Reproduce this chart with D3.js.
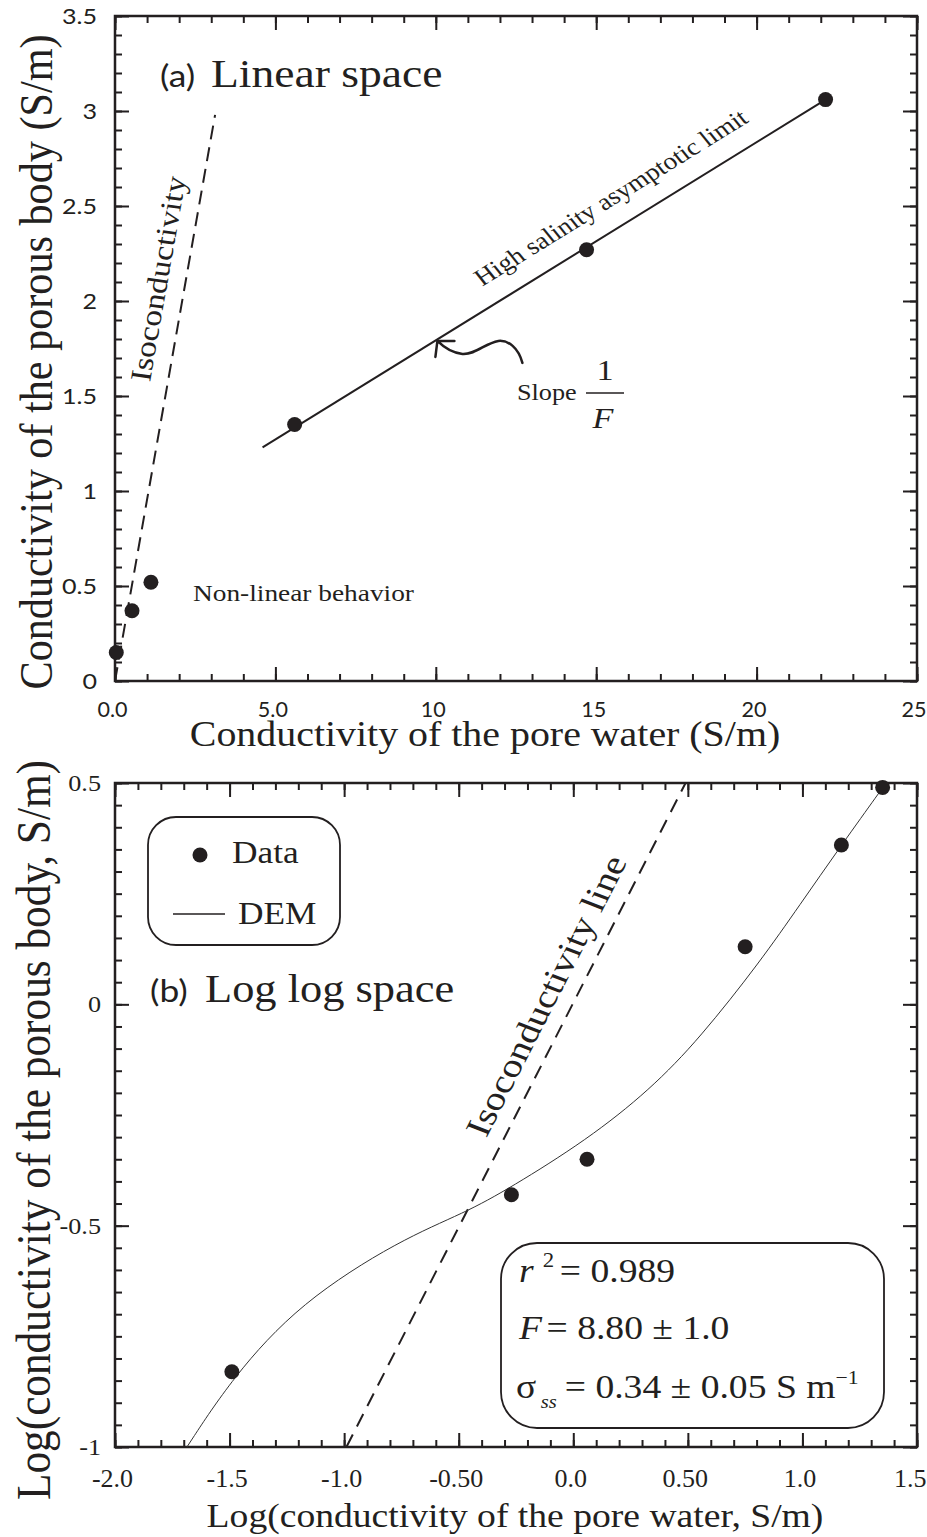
<!DOCTYPE html>
<html>
<head>
<meta charset="utf-8">
<script src="https://cdn.jsdelivr.net/npm/d3@7"></script>
<style>
  body { margin: 0; background: #fff; }
  svg { display: block; }
  .serif { font-family: "Liberation Serif", "Times New Roman", serif; }
  .sans { font-family: Lato, "Noto Sans", sans-serif; }
</style>
</head>
<body>
<svg id="chart" width="927" height="1537"></svg>
<script>
'use strict';

// (a) linear space
var linWater = [0.04, 0.53, 1.12, 5.6, 14.7, 22.15];
var linBody  = [0.15, 0.37, 0.52, 1.35, 2.27, 3.06];
var limitWater = [4.6, 22.15];
var limitBody  = [1.23, 3.06];
var isoWaterA = [0, 3.12];
var isoBodyA  = [0, 2.98];
var linXTicks  = [0, 5, 10, 15, 20, 25];
var linXLabels = ['0.0', '5.0', '10', '15', '20', '25'];
var linYTicks  = [0, 0.5, 1, 1.5, 2, 2.5, 3, 3.5];
var linYLabels = ['0', '0.5', '1', '1.5', '2', '2.5', '3', '3.5'];

// (b) log log space
var logWater = [-1.49, -0.27, 0.06, 0.75, 1.17, 1.35];
var logBody  = [-0.83, -0.43, -0.35, 0.13, 0.36, 0.49];
var demWater = [-1.686, -1.489, -1.193, -0.756, -0.473, -0.276, 0.06, 0.335, 0.553, 0.815, 0.989, 1.168, 1.347];
var demBody  = [-1.0, -0.844, -0.674, -0.532, -0.471, -0.415, -0.306, -0.193, -0.076, 0.096, 0.225, 0.358, 0.487];
var isoWaterB = [-0.99, 0.49];
var isoBodyB  = [-1, 0.5];
var logXTicks  = [-2, -1.5, -1, -0.5, 0, 0.5, 1, 1.5];
var logXLabels = ['-2.0', '-1.5', '-1.0', '-0.50', '0.0', '0.50', '1.0', '1.5'];
var logYTicks  = [-1, -0.5, 0, 0.5];
var logYLabels = ['-1', '-0.5', '0', '0.5'];

var INK = '#231f20';
var SX = 1.14;   // the source figure is stretched sideways, its text too

var svg = d3.select('#chart');

var xA = d3.scaleLinear().domain([0, 25]).range([115, 917]);
var yA = d3.scaleLinear().domain([0, 3.5]).range([681, 16]);
var xB = d3.scaleLinear().domain([-2, 1.5]).range([115, 917]);
var yB = d3.scaleLinear().domain([-1, 0.5]).range([1447, 783]);

function zip(xs, ys) {
  return xs.map(function(x, i) { return [x, ys[i]]; });
}

// text at x,y with an on-page angle, stretched like the original;
// len (optional) forces the on-page length of the text
function label(parent, x, y, angle, cls, size, len) {
  var r = (angle || 0) * Math.PI / 180;
  var a = Math.atan2(SX * Math.sin(r), Math.cos(r));
  var t = parent.append('text')
    .attr('class', cls)
    .attr('transform', 'translate(' + x + ',' + y + ') scale(' + SX + ',1) rotate(' + a * 180 / Math.PI + ')')
    .style('font-size', size + 'px')
    .attr('fill', INK);
  if (len) {
    var k = Math.sqrt(Math.pow(SX * Math.cos(a), 2) + Math.pow(Math.sin(a), 2));
    t.attr('textLength', len / k).attr('lengthAdjust', 'spacingAndGlyphs');
  }
  return t;
}

function axes(g, x, y, o) {
  var X = x.range(), Y = y.range(), xd = x.domain(), yd = y.domain();
  var xMinor = d3.range(xd[0], xd[1] + 1e-9, o.xStep);
  var yMinor = d3.range(yd[0], yd[1] + 1e-9, o.yStep);
  var sides = [
    [d3.axisBottom(x), 0, Y[0], xMinor, o.xTicks],
    [d3.axisTop(x), 0, Y[1], xMinor, o.xTicks],
    [d3.axisLeft(y), X[0], 0, yMinor, o.yTicks],
    [d3.axisRight(y), X[1], 0, yMinor, o.yTicks]
  ];
  sides.forEach(function(s) {
    [[s[3], 7], [s[4], 14]].forEach(function(t) {
      g.append('g')
        .attr('transform', 'translate(' + s[1] + ',' + s[2] + ')')
        .call(s[0].tickValues(t[0]).tickSize(-t[1]).tickSizeOuter(0).tickFormat(''))
        .call(function(sel) { sel.select('.domain').remove(); })
        .selectAll('line').attr('stroke', INK).attr('stroke-width', 2);
    });
  });

  var n = o.xTicks.length;
  g.append('g')
    .attr('transform', 'translate(0,' + Y[0] + ')')
    .call(d3.axisBottom(x).tickValues(o.xTicks).tickSize(0).tickPadding(o.xPad)
      .tickFormat(function(d, i) { return o.xLabels[i]; }))
    .call(function(sel) { sel.select('.domain').remove(); })
    .selectAll('text')
      .attr('class', o.xFont).style('font-size', o.xSize + 'px')
      .attr('fill', INK)
      .attr('x', function(d, i) { return i === n - 1 ? 9 / o.xScale : -3 / o.xScale; })
      .attr('text-anchor', function(d, i) { return i === n - 1 ? 'end' : 'middle'; })
      .attr('transform', 'scale(' + o.xScale + ',1)');

  g.append('g')
    .attr('transform', 'translate(' + X[0] + ',0)')
    .call(d3.axisLeft(y).tickValues(o.yTicks).tickSize(0).tickPadding(o.yPad)
      .tickFormat(function(d, i) { return o.yLabels[i]; }))
    .call(function(sel) { sel.select('.domain').remove(); })
    .selectAll('text')
      .attr('class', o.yFont).style('font-size', o.ySize + 'px')
      .attr('fill', INK).attr('x', -o.yPad / SX).attr('transform', 'scale(' + SX + ',1)');

  g.append('rect')
    .attr('x', X[0]).attr('y', Y[1])
    .attr('width', X[1] - X[0]).attr('height', Y[0] - Y[1])
    .attr('fill', 'none').attr('stroke', INK).attr('stroke-width', 2.5);
}

/* ---------- (a) linear space ---------- */
var gA = svg.append('g');

axes(gA, xA, yA, {
  xStep: 1, yStep: 0.1,
  xTicks: linXTicks, xLabels: linXLabels, xFont: 'sans', xSize: 22, xPad: 20, xScale: 0.98,
  yTicks: linYTicks, yLabels: linYLabels, yFont: 'sans', ySize: 22, yPad: 18
});

var lineA = d3.line().x(function(d) { return xA(d[0]); }).y(function(d) { return yA(d[1]); });

gA.append('path')
  .datum(zip(isoWaterA, isoBodyA))
  .attr('d', lineA)
  .attr('fill', 'none').attr('stroke', INK).attr('stroke-width', 2)
  .attr('stroke-dasharray', '14,8');

gA.append('path')
  .datum(zip(limitWater, limitBody))
  .attr('d', lineA)
  .attr('fill', 'none').attr('stroke', INK).attr('stroke-width', 2);

gA.selectAll('circle.pt')
  .data(zip(linWater, linBody))
  .join('circle')
  .attr('class', 'pt')
  .attr('cx', function(d) { return xA(d[0]); })
  .attr('cy', function(d) { return yA(d[1]); })
  .attr('r', 7.5)
  .attr('fill', INK);

// wavy arrow pointing at the asymptote
var tip = [xA(10.05), yA(1.79)];
function rel(dx, dy) { return (tip[0] + dx) + ',' + (tip[1] + dy); }
gA.append('path')
  .attr('d', 'M' + rel(85, 22) + 'C' + rel(81, 7) + ' ' + rel(71, -1) + ' ' + rel(61, 0) +
             'C' + rel(48, 2) + ' ' + rel(38, 14) + ' ' + rel(25, 13) +
             'C' + rel(15, 12) + ' ' + rel(8, 8) + ' ' + rel(0, 0) +
             'M' + rel(17, 0) + 'L' + rel(0, 0) + 'L' + rel(-2, 16))
  .attr('fill', 'none').attr('stroke', INK).attr('stroke-width', 2.5)
  .attr('stroke-linecap', 'round').attr('stroke-linejoin', 'round');

label(gA, 517, 400, 0, 'serif', 23).text('Slope');
label(gA, 605, 380, 0, 'serif', 30).attr('text-anchor', 'middle').text('1');
gA.append('line')
  .attr('x1', 586).attr('x2', 624).attr('y1', 393).attr('y2', 393)
  .attr('stroke', INK).attr('stroke-width', 1.5);
label(gA, 603, 428, 0, 'serif', 30).attr('text-anchor', 'middle')
  .style('font-style', 'italic').text('F');

label(gA, 160, 87, 0, 'sans', 31).text('(a)');
label(gA, 211, 87, 0, 'serif', 40).text('Linear space');

label(gA, 193, 601, 0, 'serif', 24).text('Non-linear behavior');

var isoAngA = Math.atan2(yA(isoBodyA[1]) - yA(0), xA(isoWaterA[1]) - xA(0)) * 180 / Math.PI;
label(gA, 168, 280, isoAngA, 'serif', 26, 208).attr('text-anchor', 'middle').text('Isoconductivity');

var limAng = Math.atan2(yA(limitBody[1]) - yA(limitBody[0]), xA(limitWater[1]) - xA(limitWater[0])) * 180 / Math.PI;
label(gA, 616, 204, limAng, 'serif', 24).attr('text-anchor', 'middle').text('High salinity asymptotic limit');

label(gA, 485, 746, 0, 'serif', 35).attr('text-anchor', 'middle')
  .text('Conductivity of the pore water (S/m)');
label(gA, 52, 362, -90, 'serif', 41, 655).attr('text-anchor', 'middle')
  .text('Conductivity of the porous body (S/m)');

/* ---------- (b) log log space ---------- */
var gB = svg.append('g');

axes(gB, xB, yB, {
  xStep: 0.1, yStep: 0.05,
  xTicks: logXTicks, xLabels: logXLabels, xFont: 'serif', xSize: 26, xPad: 22, xScale: 1.0,
  yTicks: logYTicks, yLabels: logYLabels, yFont: 'serif', ySize: 23, yPad: 14
});

svg.append('clipPath').attr('id', 'clipB')
  .append('rect').attr('x', 115).attr('y', 783).attr('width', 802).attr('height', 664);

var lineB = d3.line().x(function(d) { return xB(d[0]); }).y(function(d) { return yB(d[1]); });

gB.append('path')
  .datum(zip(isoWaterB, isoBodyB))
  .attr('d', lineB)
  .attr('fill', 'none').attr('stroke', INK).attr('stroke-width', 2)
  .attr('stroke-dasharray', '14,9');

gB.append('path')
  .datum(zip(demWater, demBody))
  .attr('clip-path', 'url(#clipB)')
  .attr('d', lineB.curve(d3.curveBasis))
  .attr('fill', 'none').attr('stroke', '#333').attr('stroke-width', 1);

gB.selectAll('circle.pt')
  .data(zip(logWater, logBody))
  .join('circle')
  .attr('class', 'pt')
  .attr('cx', function(d) { return xB(d[0]); })
  .attr('cy', function(d) { return yB(d[1]); })
  .attr('r', 7.5)
  .attr('fill', INK);

// legend
gB.append('rect')
  .attr('x', 148).attr('y', 817).attr('width', 192).attr('height', 128).attr('rx', 28)
  .attr('fill', '#fff').attr('stroke', INK).attr('stroke-width', 1.8);
gB.append('circle').attr('cx', 200).attr('cy', 855).attr('r', 7.5).attr('fill', INK);
label(gB, 232, 863, 0, 'serif', 31).text('Data');
gB.append('line').attr('x1', 173).attr('x2', 225).attr('y1', 914).attr('y2', 914)
  .attr('stroke', INK).attr('stroke-width', 1.5);
label(gB, 238, 924, 0, 'serif', 31).text('DEM');

label(gB, 150, 1002, 0, 'sans', 31).text('(b)');
label(gB, 205, 1002, 0, 'serif', 39).text('Log log space');

var isoAngB = Math.atan2(yB(isoBodyB[1]) - yB(isoBodyB[0]), xB(isoWaterB[1]) - xB(isoWaterB[0])) * 180 / Math.PI;
label(gB, 557, 1000, isoAngB, 'serif', 31, 311).attr('text-anchor', 'middle').text('Isoconductivity line');

// fit statistics
gB.append('rect')
  .attr('x', 501).attr('y', 1243).attr('width', 383).attr('height', 185).attr('rx', 36)
  .attr('fill', '#fff').attr('stroke', INK).attr('stroke-width', 1.8);

var r1 = label(gB, 519, 1282, 0, 'serif', 33);
r1.append('tspan').style('font-style', 'italic').text('r');
r1.append('tspan').attr('dx', 8).attr('dy', -15).style('font-size', '20px').text('2');
r1.append('tspan').attr('dx', 5).attr('dy', 15).text('= 0.989');

var r2 = label(gB, 519, 1339, 0, 'serif', 33);
r2.append('tspan').style('font-style', 'italic').text('F');
r2.append('tspan').attr('dx', 4).text('= 8.80 \u00b1 1.0');

var r3 = label(gB, 516, 1398, 0, 'serif', 33);
r3.append('tspan').text('\u03c3');
r3.append('tspan').attr('dx', 4).attr('dy', 10).style('font-size', '18px').style('font-style', 'italic').text('ss');
r3.append('tspan').attr('dx', 7).attr('dy', -10).text('= 0.34 \u00b1 0.05 S m');
r3.append('tspan').attr('dy', -14).style('font-size', '19px').text('\u22121');

label(gB, 515, 1527, 0, 'serif', 33).attr('text-anchor', 'middle')
  .text('Log(conductivity of the pore water, S/m)');
label(gB, 50, 1130, -90, 'serif', 42, 740).attr('text-anchor', 'middle')
  .text('Log(conductivity of the porous body, S/m)');
</script>
</body>
</html>
